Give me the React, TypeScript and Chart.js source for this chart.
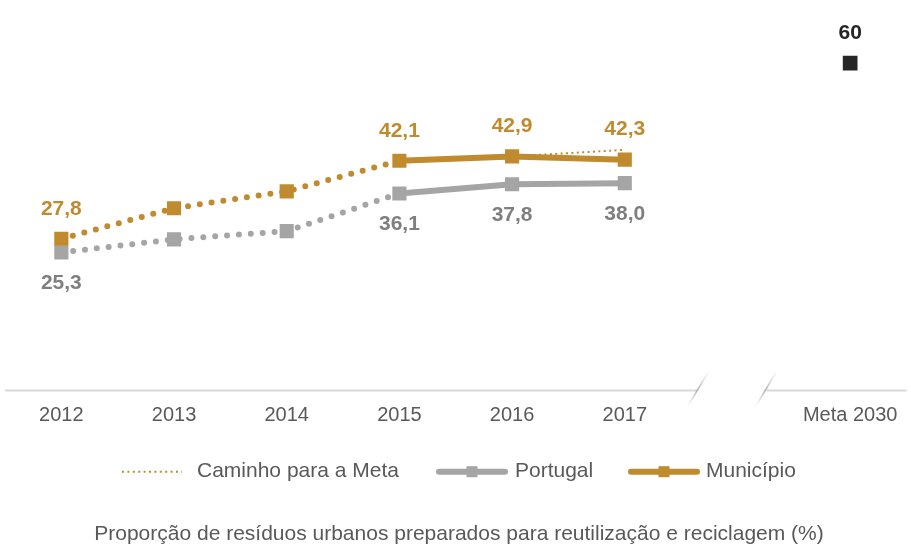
import React, { useEffect, useRef } from 'react';
import { Chart, registerables } from 'chart.js';

Chart.register(...registerables);

const categories = ['2012', '2013', '2014', '2015', '2016', '2017', '', 'Meta 2030'];
const municipio = [27.8, 33.4, 36.5, 42.1, 42.9, 42.3, null, null];
const portugal = [25.3, 27.7, 29.2, 36.1, 37.8, 38.0, null, null];
const caminho = [null, null, null, null, 42.9, 44.1, null, null];
const meta = [null, null, null, null, null, null, null, 60];
const labeledIdx = [0, 3, 4, 5];
const legendLabels = ['Caminho para a Meta', 'Portugal', 'Município'];
const titleText = 'Proporção de resíduos urbanos preparados para reutilização e reciclagem (%)';

const ORANGE = '#C08A2F';
const GRAY = '#A5A5A5';
const GRAY_TEXT = '#7F7F7F';
const TEXT = '#595959';
const DARK = '#262626';
const FONT = "'Liberation Sans', Arial, sans-serif";

const fmt = (v: number) => v.toFixed(1).replace('.', ',');

const decorPlugin = {
  id: 'decor',
  beforeDatasetsDraw(chart: any) {
    const { ctx, chartArea, scales } = chart;
    const x = scales.x;
    const y = chartArea.bottom;
    const gapX = x.getPixelForValue(6);
    ctx.save();
    ctx.strokeStyle = '#D9D9D9';
    ctx.lineWidth = 2;
    ctx.beginPath();
    ctx.moveTo(chartArea.left, y);
    ctx.lineTo(gapX - 40, y);
    ctx.moveTo(gapX + 29, y);
    ctx.lineTo(chartArea.right, y);
    ctx.stroke();
    [gapX - 40, gapX + 28].forEach((cx) => {
      const x0 = cx - 10.5, y0 = y + 17, x1 = cx + 10.5, y1 = y - 18;
      const g = ctx.createLinearGradient(x0, y0, x1, y1);
      g.addColorStop(0, 'rgba(215,215,215,0)');
      g.addColorStop(0.5, 'rgba(175,175,175,1)');
      g.addColorStop(1, 'rgba(215,215,215,0.2)');
      ctx.strokeStyle = g;
      ctx.lineWidth = 1.5;
      ctx.beginPath();
      ctx.moveTo(x0, y0);
      ctx.lineTo(x1, y1);
      ctx.stroke();
    });
    ctx.restore();
  },
  afterDatasetsDraw(chart: any) {
    const { ctx } = chart;
    ctx.save();
    ctx.textAlign = 'center';
    ctx.textBaseline = 'middle';
    ctx.font = `bold 21px ${FONT}`;
    const mMeta = chart.getDatasetMeta(0);
    const pMeta = chart.getDatasetMeta(1);
    labeledIdx.forEach((i) => {
      const pm = mMeta.data[i];
      ctx.fillStyle = ORANGE;
      ctx.fillText(fmt(municipio[i] as number), pm.x, pm.y - 30);
      const pp = pMeta.data[i];
      ctx.fillStyle = GRAY_TEXT;
      ctx.fillText(fmt(portugal[i] as number), pp.x, pp.y + 31);
    });
    const goal = chart.getDatasetMeta(3).data[7];
    ctx.fillStyle = DARK;
    ctx.fillText(String(meta[7]), goal.x, goal.y - 30);
    ctx.restore();
  },
  afterDraw(chart: any) {
    const { ctx } = chart;
    const ly = 471.7;
    ctx.save();
    ctx.font = `21px ${FONT}`;
    ctx.textBaseline = 'middle';
    ctx.textAlign = 'left';
    // Caminho para a Meta
    ctx.strokeStyle = ORANGE;
    ctx.lineWidth = 2;
    ctx.setLineDash([2, 3.4]);
    ctx.beginPath();
    ctx.moveTo(122, ly);
    ctx.lineTo(182, ly);
    ctx.stroke();
    ctx.setLineDash([]);
    ctx.fillStyle = TEXT;
    ctx.fillText(legendLabels[0], 197, ly);
    const drawSample = (x0: number, x1: number, color: string) => {
      ctx.strokeStyle = color;
      ctx.lineWidth = 6;
      ctx.lineCap = 'round';
      ctx.beginPath();
      ctx.moveTo(x0 + 3, ly);
      ctx.lineTo(x1 - 3, ly);
      ctx.stroke();
      ctx.fillStyle = color;
      const cx = (x0 + x1) / 2;
      ctx.fillRect(cx - 5.5, ly - 5.5, 11, 11);
    };
    drawSample(436, 508, GRAY);
    ctx.fillStyle = TEXT;
    ctx.fillText(legendLabels[1], 515, ly);
    drawSample(628, 700, ORANGE);
    ctx.fillStyle = TEXT;
    ctx.fillText(legendLabels[2], 706, ly);
    // title
    ctx.textAlign = 'center';
    ctx.fillText(titleText, 459, 534);
    ctx.restore();
  },
};

const dotted = (ctx: any) => ctx.p1DataIndex <= 3;
const segmentStyle = {
  borderDash: (c: any) => (dotted(c) ? [0, 11.9] : undefined),
  borderWidth: (c: any) => (dotted(c) ? 6 : undefined),
  borderCapStyle: (c: any) => (dotted(c) ? 'round' : undefined),
};

export default function App() {
  const ref = useRef<HTMLCanvasElement | null>(null);
  useEffect(() => {
    if (!ref.current) return;
    const chart = new Chart(ref.current, {
      type: 'line',
      data: {
        labels: categories,
        datasets: [
          {
            label: 'Município',
            data: municipio,
            borderColor: ORANGE,
            backgroundColor: ORANGE,
            borderWidth: 6,
            pointStyle: 'rect',
            pointRadius: 10,
            pointBorderWidth: 0,
            segment: segmentStyle,
          },
          {
            label: 'Portugal',
            data: portugal,
            borderColor: GRAY,
            backgroundColor: GRAY,
            borderWidth: 6,
            pointStyle: 'rect',
            pointRadius: 10,
            pointBorderWidth: 0,
            segment: segmentStyle,
          },
          {
            label: 'Caminho para a Meta',
            data: caminho,
            borderColor: ORANGE,
            borderWidth: 2,
            borderDash: [2, 3.4],
            pointRadius: 0,
          },
          {
            label: 'Meta',
            data: meta,
            borderColor: DARK,
            backgroundColor: DARK,
            showLine: false,
            pointStyle: 'rect',
            pointRadius: 10.4,
            pointBorderWidth: 0,
          },
        ],
      },
      options: {
        responsive: false,
        animation: false,
        events: [],
        layout: { autoPadding: false, padding: { left: 5, right: 4.5, top: 8.5, bottom: 115.5 } },
        plugins: { legend: { display: false }, tooltip: { enabled: false }, title: { display: false } },
        scales: {
          x: {
            offset: true,
            grid: { display: false, drawTicks: false },
            border: { display: false },
            ticks: {
              autoSkip: false,
              maxRotation: 0,
              padding: 13,
              color: TEXT,
              font: { family: FONT, size: 20 },
            },
            afterFit: (s: any) => {
              s.height = 40;
            },
          },
          y: { display: false, min: 0, max: 70 },
        },
      },
      plugins: [decorPlugin],
    });
    return () => chart.destroy();
  }, []);
  return (
    <div style={{ position: 'absolute', left: 0, top: 0, width: 911, height: 546, background: '#fff' }}>
      <canvas ref={ref} width={911} height={546} />
    </div>
  );
}
